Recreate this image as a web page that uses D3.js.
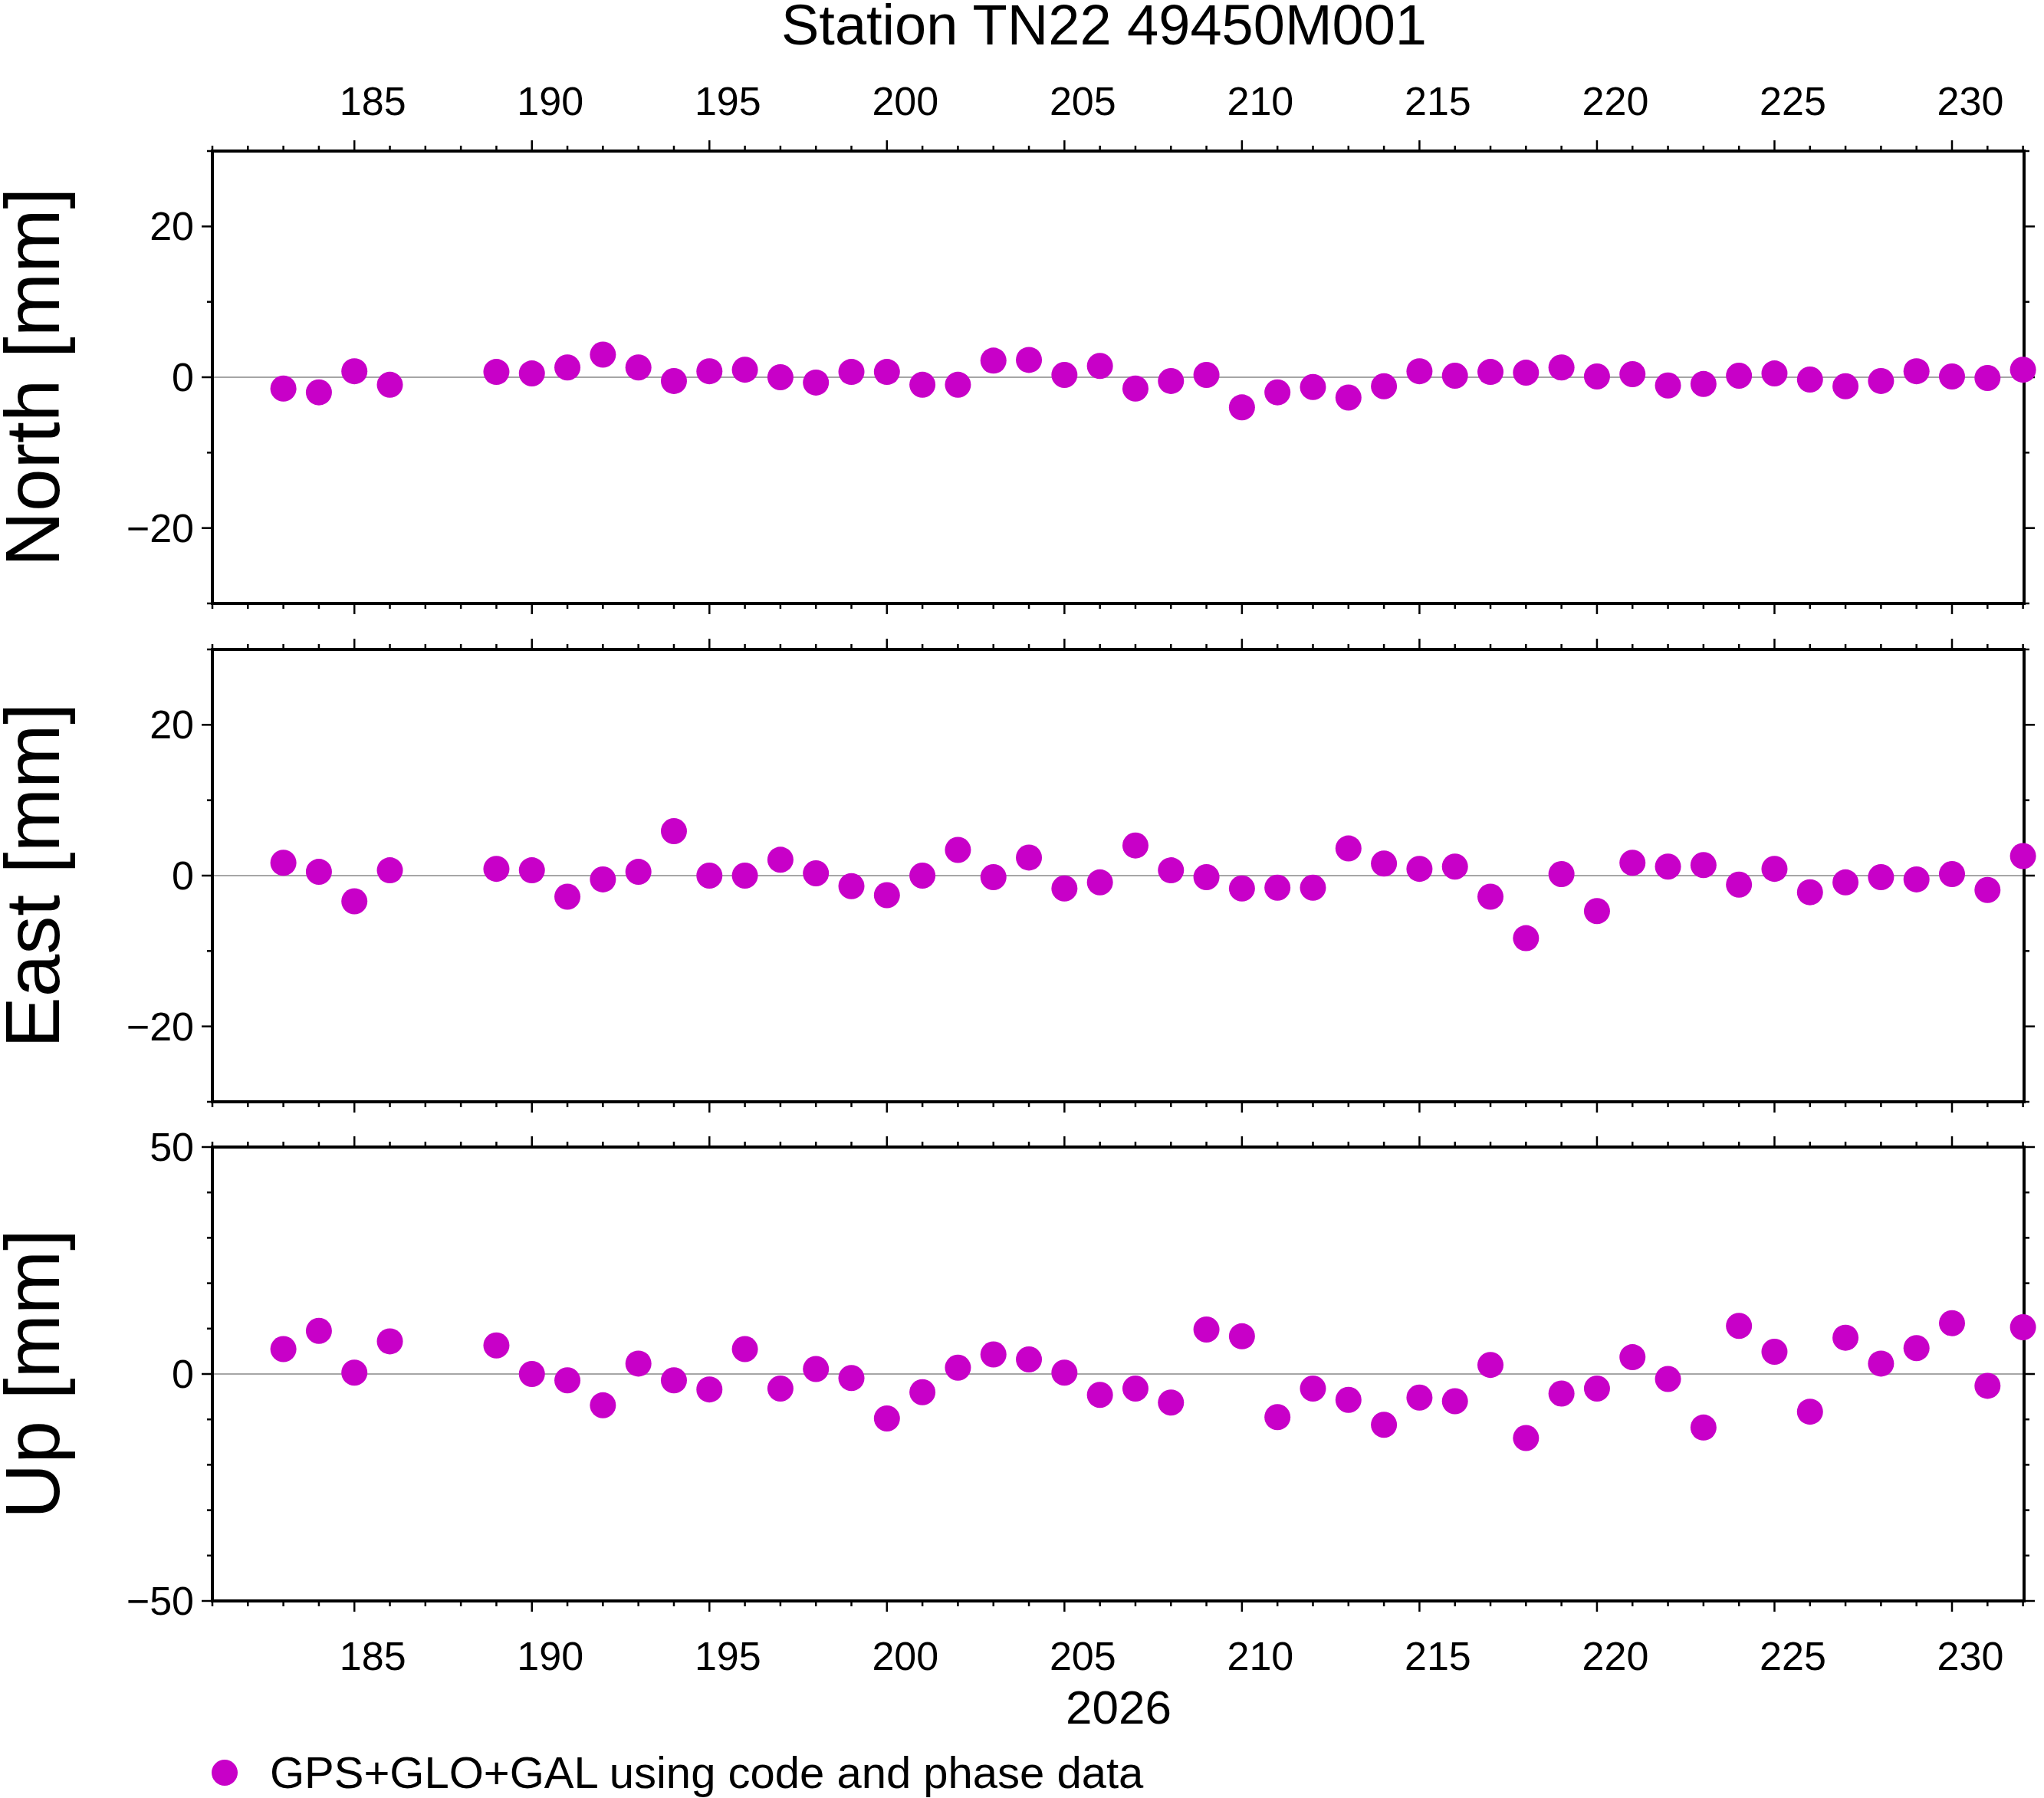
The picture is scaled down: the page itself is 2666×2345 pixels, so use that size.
<!DOCTYPE html>
<html><head><meta charset="utf-8">
<script src="https://cdn.jsdelivr.net/npm/d3@7"></script>
<style>body{margin:0;background:#fff}text{font-family:"Liberation Sans",Arial,sans-serif;fill:#000}</style>
</head><body>
<svg id="c" width="2666" height="2345"></svg>
<script>
const days = [183,184,185,186,189,190,191,192,193,194,195,196,197,198,199,200,201,202,203,204,205,206,207,208,209,210,211,212,213,214,215,216,217,218,219,220,221,222,223,224,225,226,227,228,229,230,231,232];
const north = [-1.5,-2,0.8,-1,0.7,0.5,1.3,3,1.3,-0.5,0.8,1,0,-0.7,0.7,0.7,-1,-1,2.2,2.3,0.3,1.5,-1.5,-0.5,0.3,-4,-2,-1.3,-2.7,-1.2,0.8,0.2,0.7,0.6,1.3,0.1,0.4,-1.1,-0.9,0.2,0.5,-0.3,-1.2,-0.5,0.8,0.1,-0.1,1];
const east = [1.7,0.5,-3.4,0.7,0.9,0.7,-2.8,-0.5,0.5,5.9,0,0,2.1,0.3,-1.4,-2.6,0,3.4,-0.2,2.4,-1.7,-0.9,4,0.7,-0.2,-1.7,-1.6,-1.6,3.6,1.6,0.9,1.2,-2.8,-8.3,0.2,-4.7,1.7,1.2,1.4,-1.2,0.9,-2.2,-0.9,-0.2,-0.5,0.2,-1.9,2.6];
const up = [5.5,9.5,0.3,7.2,6.3,0,-1.4,-6.9,2.3,-1.4,-3.4,5.5,-3.2,1.1,-0.9,-9.8,-4,1.4,4.3,3.2,0.3,-4.6,-3.2,-6.3,9.8,8.3,-9.5,-3.2,-5.7,-11.2,-5.2,-6,2,-14.1,-4.3,-3.2,3.7,-1.1,-11.8,10.6,4.9,-8.3,8,2.3,5.7,11.2,-2.6,10.3];
const xTicks = [185,190,195,200,205,210,215,220,225,230];
const title = "Station TN22 49450M001";
const xLabel = "2026";
const legendText = "GPS+GLO+GAL using code and phase data";
const panels = [
 {name:"North [mm]", vals:north, dom:[-30,30], labels:[-20,0,20], minor:d3.range(-30,31,10), top:197, bottom:787},
 {name:"East [mm]", vals:east, dom:[-30,30], labels:[-20,0,20], minor:d3.range(-30,31,10), top:847, bottom:1437},
 {name:"Up [mm]", vals:up, dom:[-50,50], labels:[-50,0,50], minor:d3.range(-50,51,10), top:1496, bottom:2088}
];
const L=277,R=2640,col="#c800c8";
const svg=d3.select("#c");
const x=d3.scaleLinear().domain([181,232.03]).range([L,R]);
const minorDays=d3.range(181,233);
const fmt=v=>v<0?"\u2212"+Math.abs(v):String(v);
svg.append("text").attr("x",1440).attr("y",58).attr("text-anchor","middle").attr("font-size",74).text(title);
panels.forEach((p,i)=>{
  const y=d3.scaleLinear().domain(p.dom).range([p.bottom,p.top]);
  const g=svg.append("g");
  minorDays.forEach(d=>{
    const maj=d%5===0, len=maj?14:7;
    g.append("line").attr("x1",x(d)).attr("x2",x(d)).attr("y1",p.top).attr("y2",p.top-len).attr("stroke","#000").attr("stroke-width",2.5);
    g.append("line").attr("x1",x(d)).attr("x2",x(d)).attr("y1",p.bottom).attr("y2",p.bottom+len).attr("stroke","#000").attr("stroke-width",2.5);
  });
  p.minor.forEach(v=>{
    const maj=p.labels.includes(v), len=maj?14:7;
    g.append("line").attr("x1",L).attr("x2",L-len).attr("y1",y(v)).attr("y2",y(v)).attr("stroke","#000").attr("stroke-width",2.5);
    g.append("line").attr("x1",R).attr("x2",R+len).attr("y1",y(v)).attr("y2",y(v)).attr("stroke","#000").attr("stroke-width",2.5);
  });
  p.labels.forEach(v=>g.append("text").attr("x",L-24).attr("y",y(v)+18).attr("text-anchor","end").attr("font-size",52).text(fmt(v)));
  g.append("line").attr("x1",L).attr("x2",R).attr("y1",y(0)).attr("y2",y(0)).attr("stroke","#888").attr("stroke-width",1.5);
  g.append("rect").attr("x",L).attr("y",p.top).attr("width",R-L).attr("height",p.bottom-p.top).attr("fill","none").attr("stroke","#000").attr("stroke-width",4);
  g.selectAll("circle").data(days).join("circle").attr("cx",d=>x(d)).attr("cy",(d,j)=>y(p.vals[j])).attr("r",17).attr("fill",col);
  const cy=(p.top+p.bottom)/2;
  g.append("text").attr("transform",`translate(77,${cy}) rotate(-90)`).attr("text-anchor","middle").attr("font-size",100).text(p.name);
  if(i===0) xTicks.forEach(d=>g.append("text").attr("x",x(d)+24).attr("y",150).attr("text-anchor","middle").attr("font-size",52).text(d));
  if(i===2) xTicks.forEach(d=>g.append("text").attr("x",x(d)+24).attr("y",2178).attr("text-anchor","middle").attr("font-size",52).text(d));
});
svg.append("text").attr("x",1459).attr("y",2248).attr("text-anchor","middle").attr("font-size",62).text(xLabel);
svg.append("circle").attr("cx",293).attr("cy",2312).attr("r",17).attr("fill",col);
svg.append("text").attr("x",352).attr("y",2332).attr("font-size",58).text(legendText);
</script>
</body></html>
